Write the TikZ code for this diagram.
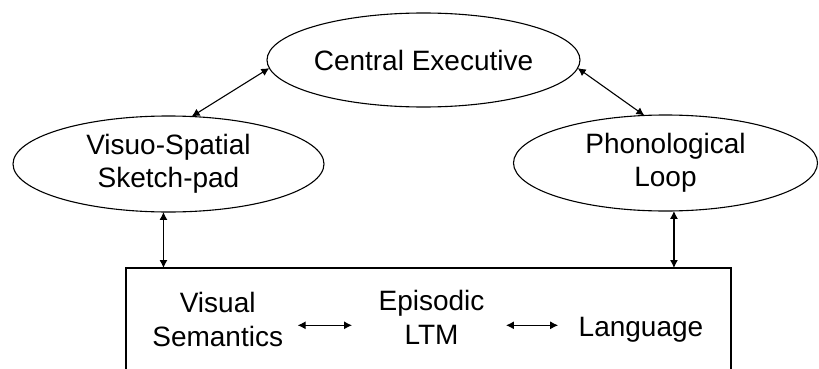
\documentclass[tikz,border=0pt]{standalone}
\usepackage{fontspec}
\setmainfont{Liberation Sans}
\usetikzlibrary{shapes.geometric,arrows.meta,calc}
\begin{document}
\begin{tikzpicture}[x=1pt,y=1pt,
  line width=1.1pt,
  lbl/.style={font=\fontsize{28}{33.3}\selectfont, align=center},
  bubble/.style={ellipse, draw, lbl, inner sep=0pt, outer sep=0pt},
  word/.style={lbl, inner sep=0pt},
  link/.style={{Latex[length=8pt,width=8pt]}-{Latex[length=8pt,width=8pt]}, line width=1.1pt},
]
\useasboundingbox (0,0) rectangle (819,368);
\clip (0,0) rectangle (819,368);

% working-memory components
\node[bubble, minimum width=313, minimum height=94] (ce) at (423.5,308) {Central Executive};
\node[bubble, minimum width=311, minimum height=96] (vs) at (168.5,204) {Visuo-Spatial\\Sketch-pad};
\node[bubble, minimum width=304, minimum height=96] (pl) at (665.5,205) {Phonological\\Loop};

% long-term memory box (open at the bottom of the page)
\node[draw, rectangle, minimum width=605, minimum height=130, anchor=north west,
      inner sep=0pt, outer sep=0pt] (ltm) at (126,100) {};

% contents of the long-term store
\coordinate (row) at (0,42.7);
\node[word] (vsem) at (217.7,48.5) {Visual\\Semantics};
\node[word] (epi) at (431.5,50.7) {Episodic\\LTM};
\node[word] (lang) at (641,38.7) {Language};

% links between the components
\draw[link] (ce.183.7) -- (vs.64.3);
\draw[link] (ce.-3.8) -- (pl.114);
\draw[link] (vs.-96.5) -- (vs.-96.5 |- ltm.north);
\draw[link] (pl.-80) -- (pl.-80 |- ltm.north);
\draw[link] ($(vsem.east |- row)+(14,0)$) -- ($(epi.west |- row)+(-26,0)$);
\draw[link] ($(epi.east |- row)+(21,0)$) -- ($(lang.west |- row)+(-20,0)$);
\end{tikzpicture}
\end{document}
